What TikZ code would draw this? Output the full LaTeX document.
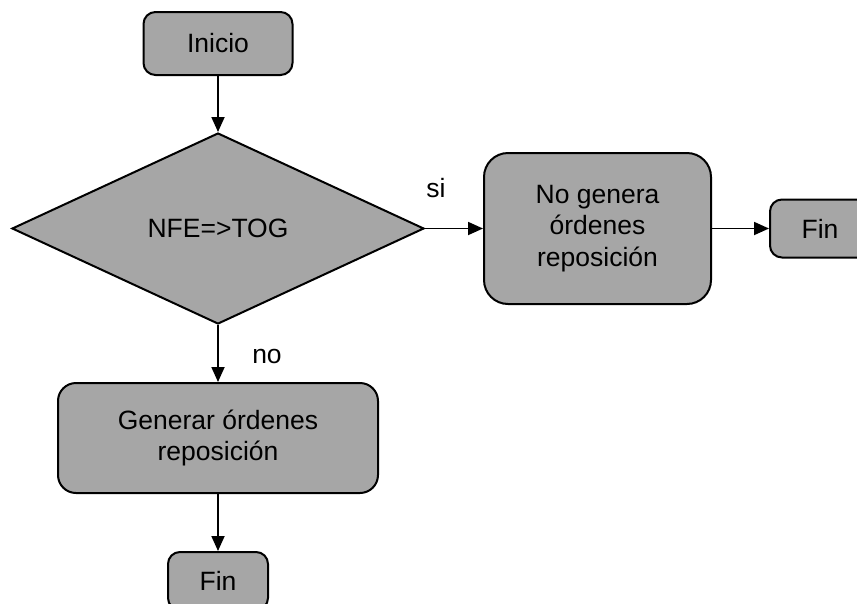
\documentclass[tikz,border=0pt]{standalone}
\usepackage{fontspec}
\setmainfont{Liberation Sans}
\usetikzlibrary{positioning, arrows.meta, shapes.geometric}

\begin{document}
\begin{tikzpicture}[
    x=1pt, y=-1pt,
    node distance=57pt,
    every node/.style={font=\fontsize{26.5}{31.5}\selectfont},
    box/.style={draw, line width=2pt, fill=black!35, rounded corners=12pt, align=center, inner sep=2pt},
    endbox/.style={box, minimum width=100pt, minimum height=58pt},
    decision/.style={draw, line width=2pt, fill=black!35, diamond, minimum width=412pt, minimum height=191pt, inner sep=0pt},
    arr/.style={-{Triangle[length=15pt,width=13pt]}, line width=1.8pt},
    lbl/.style={inner sep=0pt}
]
% Page frame (the last box is cut by the page edge)
\useasboundingbox (0,0) rectangle (857,603);
\clip (0,0) rectangle (857,603);

% Start
\node[box, minimum width=149pt, minimum height=63pt] (inicio) at (218,43.5) {Inicio};

% Test
\node[decision, below=56pt of inicio] (nfe) {NFE=>TOG};

% Yes branch
\node[box, rounded corners=24pt, minimum width=227pt, minimum height=151pt, right=58pt of nfe] (nogen) {No genera\\órdenes\\reposición};
\node[endbox, right=57pt of nogen] (fin1) {Fin};

% No branch
\node[box, rounded corners=18pt, minimum width=320pt, minimum height=110pt, below=57pt of nfe] (gen) {Generar órdenes\\reposición};
\node[endbox, below=57pt of gen] (fin2) {Fin};

% Arrows
\draw[arr] (inicio) -- (nfe);
\draw[arr] (nfe)    -- node[lbl, pos=0.19, yshift=40pt] {si} (nogen);
\draw[arr] (nogen)  -- (fin1);
\draw[arr] (nfe)    -- node[lbl, pos=0.56, xshift=49pt] {no} (gen);
\draw[arr] (gen)    -- (fin2);
\end{tikzpicture}
\end{document}
